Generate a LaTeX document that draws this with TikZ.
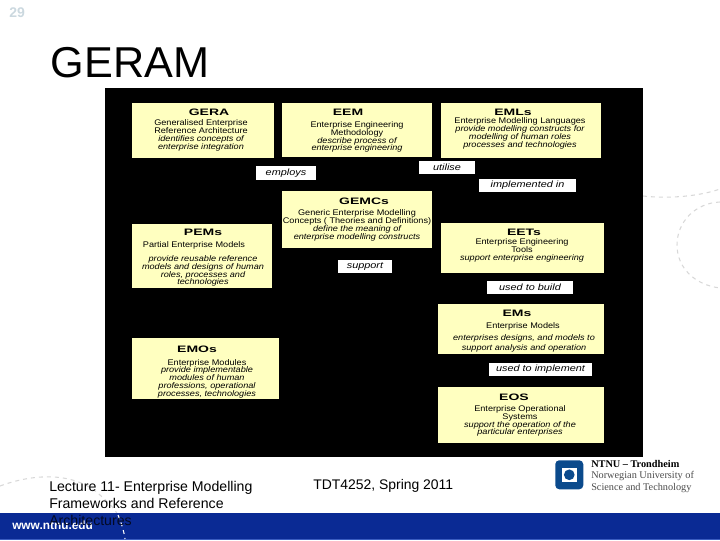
\documentclass[tikz,border=0pt]{standalone}
\usepackage{fontspec}
\usepackage{graphicx}
\setmainfont{Liberation Sans}
\newfontfamily\logoserif{Liberation Serif}
\newfontfamily\widefont[FakeStretch=1.12]{Liberation Sans}
\newfontfamily\tagfont[FakeStretch=1.2]{Liberation Sans}
\setlength{\normallineskiplimit}{-5pt}
\setlength{\lineskiplimit}{-5pt}
\definecolor{boxyellow}{HTML}{FFFFC0}
\definecolor{bandblue}{HTML}{0A2A94}
\definecolor{bandedge}{HTML}{3A5CC0}
\definecolor{logoblue}{HTML}{0B4A8C}
\definecolor{pagegrey}{HTML}{CBD8DF}
\definecolor{arcgrey}{HTML}{D8D8D8}
\tikzset{
  panel/.style={fill=boxyellow,draw=none,inner sep=0pt},
  tag/.style={fill=white,draw=none,inner sep=0pt,font=\tagfont\fontsize{6.8}{8}\selectfont\itshape},
  boxtext/.style={align=center,inner sep=0pt,yshift=-0.75pt,font=\widefont\fontsize{6.12}{5.85}\selectfont},
  heading/.style={inner sep=0pt,font=\fontsize{7}{7}\selectfont\bfseries},
  slidetext/.style={anchor=base west,inner sep=0pt,font=\fontsize{10.6}{12}\selectfont},
  arcline/.style={arcgrey,dashed,line width=0.8pt},
}
\newcommand{\hd}[1]{\scalebox{1.5}[1]{#1}}
\newcommand{\panelbox}[4]{\node[panel,anchor=north west,minimum width=#3*0.75pt,minimum height=#4*0.75pt] (#1) at (#2) {};}
\begin{document}
\begin{tikzpicture}[x=0.75pt,y=-0.75pt]
\useasboundingbox (0,0) rectangle (720,540);
% faint dashed arcs
\draw[arcline] (0,486) .. controls (35,473) and (75,472) .. (100,495) .. controls (108,502) and (114,508) .. (118,515);
\draw[arcline] (643,196) .. controls (670,199) and (700,196) .. (720,189);
\draw[arcline] (720,202) .. controls (695,203) and (677,222) .. (677,245) .. controls (677,268) and (695,285) .. (720,288);
% title and page number
\node[anchor=base west,inner sep=0pt,font=\fontsize{10.5}{10}\selectfont\bfseries,text=pagegrey] (pagenum) at (9,17) {29};
\node[anchor=base west,inner sep=0pt,font=\fontsize{32.4}{32}\selectfont] (title) at (50.5,77) {GERAM};
% black panel
\node[fill=black,draw=none,inner sep=0pt,anchor=north west,minimum width=403.5pt,minimum height=276.75pt] (back) at (105,88) {};
% yellow boxes
\panelbox{gera}{132,103}{142}{55}
\panelbox{eem}{282,103}{150}{54}
\panelbox{emls}{441,103}{160}{55}
\panelbox{gemcs}{282,191}{150}{57}
\panelbox{pems}{132,224}{140}{64}
\panelbox{eets}{441,223}{163}{50}
\panelbox{ems}{438,304}{166}{50}
\panelbox{emos}{132,338}{147}{61}
\panelbox{eos}{438,387}{166}{56}
% white tags
\node[tag,minimum width=45pt,minimum height=10.5pt] (employs) at (286,173) {employs};
\node[tag,minimum width=42pt,minimum height=9.75pt] (utilise) at (447,167.5) {utilise};
\node[tag,minimum width=72.75pt,minimum height=9.75pt] (implemented) at (527.5,185.5) {implemented in};
\node[tag,minimum width=40.5pt,minimum height=9.75pt] (support) at (365,266.5) {support};
\node[tag,minimum width=64.5pt,minimum height=9.75pt] (usedbuild) at (530,287.5) {used to build};
\node[tag,minimum width=77.25pt,minimum height=9.75pt] (usedimpl) at (540.5,369.5) {used to implement};
% headings
\node[heading] (gerahd) at (209,112) {\hd{GERA}};
\node[heading] (eemhd) at (348,112) {\hd{EEM}};
\node[heading] (emlshd) at (513,112) {\hd{EMLs}};
\node[heading] (gemcshd) at (364,201) {\hd{GEMCs}};
\node[heading] (pemshd) at (203,232.5) {\hd{PEMs}};
\node[heading] (eetshd) at (524,232) {\hd{EETs}};
\node[heading] (emshd) at (517,313) {\hd{EMs}};
\node[heading] (emoshd) at (197,349) {\hd{EMOs}};
\node[heading] (eoshd) at (514,397) {\hd{EOS}};
% box texts
\node[boxtext] (geratxt) at (201,134.5) {Generalised Enterprise\\Reference Architecture\\\itshape identifies concepts of\\\itshape enterprise integration};
\node[boxtext] (eemtxt) at (357,136) {Enterprise Engineering\\Methodology\\\itshape describe process of\\\itshape enterprise engineering};
\node[boxtext] (emlstxt) at (520,132.5) {Enterprise Modelling Languages\\\itshape provide modelling constructs for\\\itshape modelling of human roles\\\itshape processes and technologies};
\node[boxtext] (gemcstxt) at (357,224.5) {Generic Enterprise Modelling\\Concepts ( Theories and Definitions)\\\itshape define the meaning of\\\itshape enterprise modelling constructs};
\node[boxtext] (pemsname) at (194,244.5) {Partial Enterprise Models};
\node[boxtext] (pemsdesc) at (203,270) {\itshape provide reusable reference\\\itshape models and designs of human\\\itshape roles, processes and\\\itshape technologies};
\node[boxtext] (eetstxt) at (522,249.5) {Enterprise Engineering\\Tools\\\itshape support enterprise engineering};
\node[boxtext] (emsname) at (523,325.5) {Enterprise Models};
\node[boxtext] (emsdesc) at (524,342) {\itshape enterprises designs, and models to\\[1.7pt]\itshape support analysis and operation};
\node[boxtext] (emostxt) at (207,377.5) {Enterprise Modules\\\itshape provide implementable\\\itshape modules of human\\\itshape professions, operational\\\itshape processes, technologies};
\node[boxtext] (eostxt) at (520,420) {Enterprise Operational\\Systems\\\itshape support the operation of the\\\itshape particular enterprises};
% footer band
\node[fill=bandblue,draw=none,inner sep=0pt,anchor=north west,minimum width=540pt,minimum height=20.25pt] (band) at (0,513) {};
\node[fill=bandedge,draw=none,inner sep=0pt,anchor=north west,minimum width=540pt,minimum height=0.75pt] (bandline) at (0,539) {};
\draw[white,dashed,line width=0.8pt] (118,515) .. controls (121,522) and (124,531) .. (125,539);
\node[anchor=base west,inner sep=0pt,text=white,font=\fontsize{8.9}{8}\selectfont\bfseries] (web) at (12,529) {www.ntnu.edu};
\node[slidetext] (lect1) at (49,491) {Lecture 11- Enterprise Modelling};
\node[slidetext] (lect2) at (49,508) {Frameworks and Reference};
\node[slidetext,text=black!75!bandblue] (lect3) at (49,525) {Architectures};
\node[slidetext,font=\fontsize{10.45}{12}\selectfont] (course) at (313,489) {TDT4252, Spring 2011};
% logo
\node[fill=logoblue,draw=none,rounded corners=3pt,inner sep=0pt,minimum width=21pt,minimum height=21.75pt,anchor=north west] (logo) at (555,460) {};
\node[fill=white,draw=none,inner sep=0pt,minimum width=11pt,minimum height=10.5pt] (logoin) at (logo.center) {};
\node[fill=logoblue,draw=none,circle,inner sep=0pt,minimum size=8pt] (logodot) at (logo.center) {};
\node[anchor=base west,inner sep=0pt,font=\logoserif\fontsize{7.7}{8}\selectfont\bfseries] (ntnu1) at (591,467) {NTNU – Trondheim};
\node[anchor=base west,inner sep=0pt,font=\logoserif\fontsize{7.7}{8}\selectfont,text=black!70] (ntnu2) at (591,478.5) {Norwegian University of};
\node[anchor=base west,inner sep=0pt,font=\logoserif\fontsize{7.7}{8}\selectfont,text=black!70] (ntnu3) at (591,490) {Science and Technology};
\end{tikzpicture}
\end{document}
